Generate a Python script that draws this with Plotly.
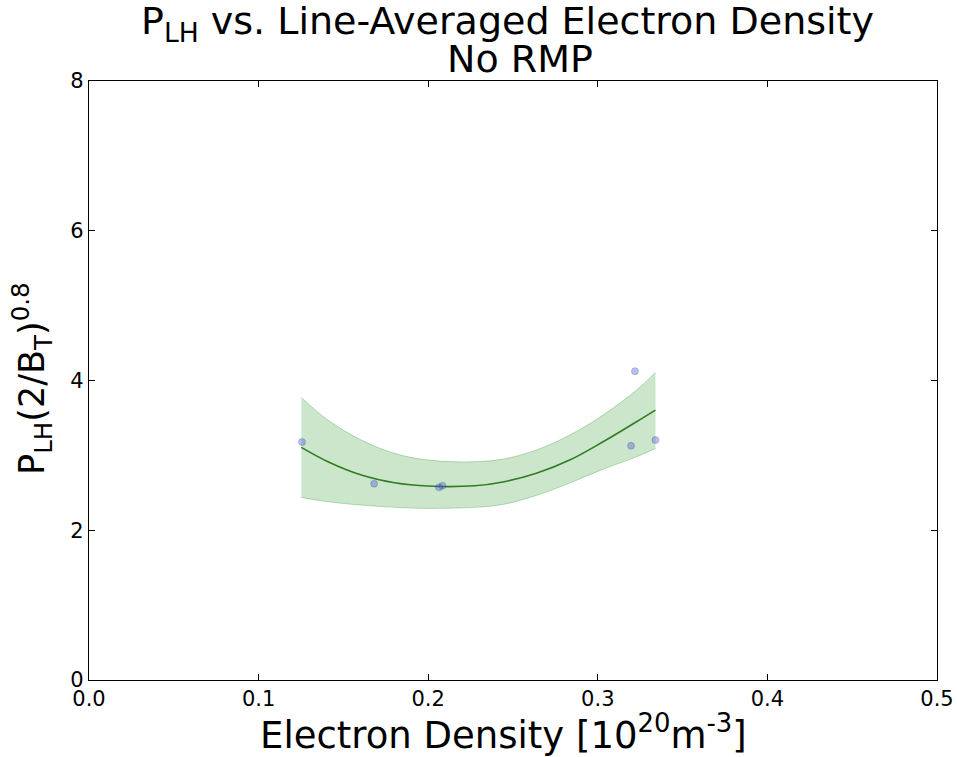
import plotly.graph_objects as go

# measured data points
density = [0.1256, 0.1681, 0.2064, 0.2084, 0.3219, 0.3196, 0.3340]
p_lh = [3.178, 2.621, 2.573, 2.594, 4.125, 3.128, 3.204]

# fit curve and confidence band
fit_x = [0.1252, 0.1409, 0.1606, 0.1802, 0.1999, 0.2274, 0.2441, 0.2638, 0.2834, 0.3031, 0.3228, 0.3340]
fit_y = [3.107, 2.915, 2.737, 2.634, 2.590, 2.594, 2.645, 2.760, 2.937, 3.182, 3.449, 3.605]
band_upper = [3.774, 3.471, 3.204, 3.027, 2.937, 2.915, 2.950, 3.071, 3.271, 3.538, 3.872, 4.108]
band_lower = [2.439, 2.381, 2.336, 2.306, 2.292, 2.306, 2.345, 2.465, 2.630, 2.815, 2.981, 3.093]

x_ticks = [0.0, 0.1, 0.2, 0.3, 0.4, 0.5]
y_ticks = [0, 2, 4, 6, 8]

FONT = "DejaVu Sans"

fig = go.Figure()
fig.add_trace(go.Scatter(x=fit_x, y=band_lower, mode="lines",
                         line=dict(color="rgba(0,128,0,0.25)", width=1, shape="spline"),
                         showlegend=False, hoverinfo="skip"))
fig.add_trace(go.Scatter(x=fit_x, y=band_upper, mode="lines", fill="tonexty",
                         fillcolor="rgba(0,128,0,0.2)",
                         line=dict(color="rgba(0,128,0,0.25)", width=1, shape="spline"),
                         showlegend=False, hoverinfo="skip"))
fig.add_trace(go.Scatter(x=fit_x, y=fit_y, mode="lines",
                         line=dict(color="#2e7d1e", width=1.6, shape="spline"),
                         showlegend=False))
fig.add_trace(go.Scatter(x=density, y=p_lh, mode="markers",
                         marker=dict(size=7, color="rgba(60,80,210,0.36)",
                                     line=dict(color="rgba(40,50,160,0.3)", width=0.8)),
                         showlegend=False))

axis_common = dict(showline=True, linecolor="black", linewidth=1.2, mirror="ticks",
                   ticks="inside", ticklen=6, tickwidth=1, tickcolor="black",
                   showgrid=False, zeroline=False, automargin=False,
                   tickfont=dict(family=FONT, size=21, color="black"))

fig.update_layout(
    width=957, height=757,
    margin=dict(l=89, r=20, t=81, b=77, autoexpand=False),
    paper_bgcolor="white", plot_bgcolor="white",
    font=dict(family=FONT, color="black"),
    xaxis=dict(range=[0, 0.5], tickvals=x_ticks, ticktext=[f"{v:.1f}" for v in x_ticks], **axis_common),
    yaxis=dict(range=[0, 8], tickvals=y_ticks, ticktext=[str(v) for v in y_ticks], **axis_common),
    annotations=[
        dict(text="P<sub>LH</sub> vs. Line-Averaged Electron Density", xref="paper", yref="paper",
             x=0.4935, y=1.0965, xanchor="center", yanchor="middle", showarrow=False,
             font=dict(family=FONT, size=38, color="black")),
        dict(text="No RMP", xref="paper", yref="paper",
             x=0.508, y=1.0367, xanchor="center", yanchor="middle", showarrow=False,
             font=dict(family=FONT, size=38, color="black")),
        dict(text="Electron Density [10<sup>20</sup>m<sup>-3</sup>]", xref="paper", yref="paper",
             x=0.489, y=-0.087, xanchor="center", yanchor="middle", showarrow=False,
             font=dict(family=FONT, size=37, color="black")),
        dict(text="P<sub>LH</sub>(2/B<sub>T</sub>)<sup>0.8</sup>", xref="paper", yref="paper",
             x=-0.067, y=0.503, xanchor="center", yanchor="middle", textangle=-90, showarrow=False,
             font=dict(family=FONT, size=35, color="black")),
    ],
)

fig.write_html("out.html")
